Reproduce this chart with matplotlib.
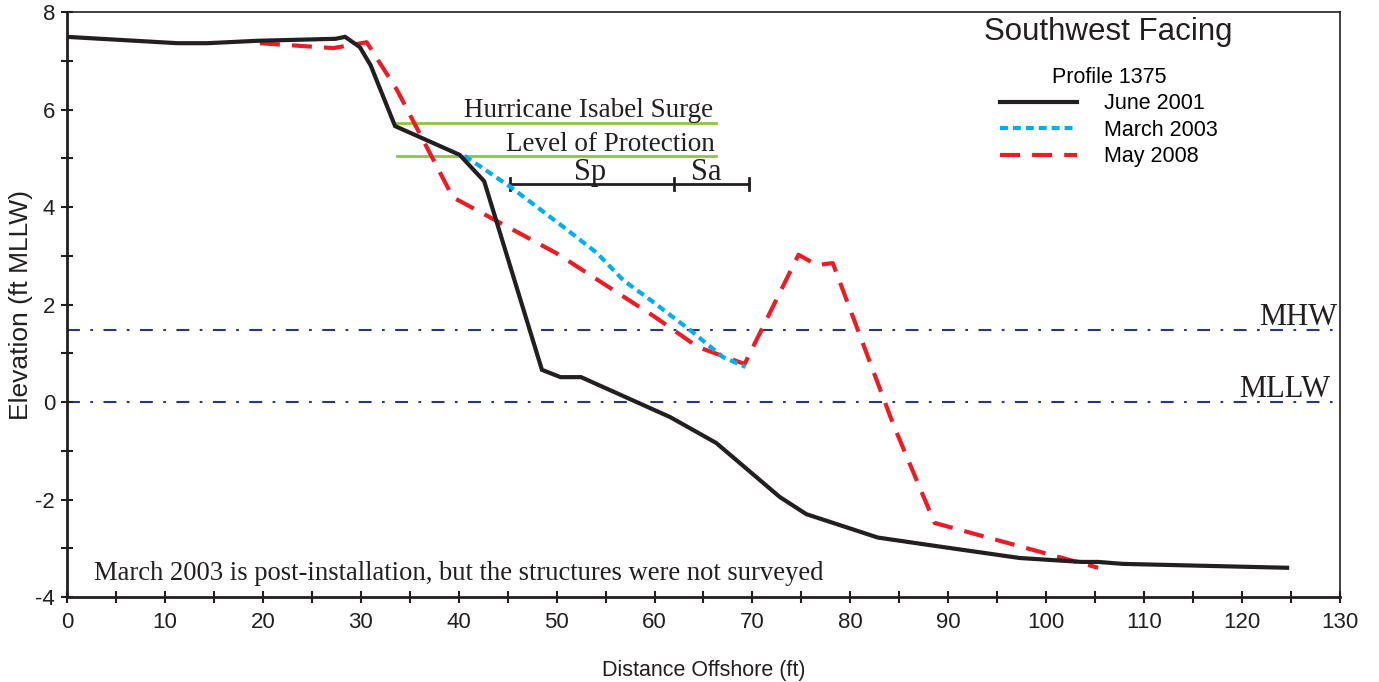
import matplotlib
matplotlib.use("Agg")
import matplotlib.pyplot as plt
from matplotlib.ticker import MultipleLocator

# June 2001 profile (distance ft, elevation ft MLLW)
june2001_x = [0, 11.3, 14.3, 19.5, 27.4, 28.4, 29.9, 31.0, 33.5, 40.1, 42.6, 48.5, 50.4, 52.5,
              61.6, 66.3, 72.8, 75.5, 82.8, 88.6, 97.3, 103.6, 105.3, 107.8, 124.6]
june2001_y = [7.49, 7.36, 7.36, 7.41, 7.45, 7.49, 7.28, 6.91, 5.66, 5.07, 4.53, 0.66, 0.51, 0.51,
              -0.31, -0.84, -1.95, -2.30, -2.78, -2.95, -3.20, -3.28, -3.28, -3.32, -3.40]

# March 2003 profile
march2003_x = [40.6, 45.3, 50.7, 54.1, 56.8, 59.6, 63.6, 67.0, 69.3]
march2003_y = [5.05, 4.41, 3.59, 3.06, 2.50, 2.09, 1.48, 0.92, 0.72]

# May 2008 profile
may2008_x = [19.7, 27.2, 30.6, 33.7, 39.4, 50.0, 60.0, 64.4, 69.2, 74.7, 76.6, 78.2, 84.4, 88.6, 105.3]
may2008_y = [7.36, 7.26, 7.38, 6.40, 4.20, 3.05, 1.75, 1.13, 0.78, 3.02, 2.81, 2.85, -0.47, -2.48, -3.40]

# reference levels
mhw = 1.48
mllw = 0.0
surge_level = 5.72
protection_level = 5.05
level_x = [33.7, 66.3]

# structure extents
sp_x = [45.2, 62.0]
sa_x = [62.0, 69.6]
structure_y = 4.47

black = "#231F20"
red = "#ED1C24"
cyan = "#00AEEF"
navy = "#2E3192"
green = "#8DC63F"
serif = ["Liberation Serif", "DejaVu Serif"]

plt.rcParams["font.family"] = ["Liberation Sans", "DejaVu Sans"]
plt.rcParams["axes.unicode_minus"] = False

fig = plt.figure(figsize=(13.79, 6.82), dpi=100)
ax = fig.add_axes([0.0486, 0.1246, 0.9231, 0.8578])

# MHW / MLLW
dashdot = (0, (6.2, 5.0, 1.3, 5.0))
ax.axhline(mhw, color=navy, lw=1.5, linestyle=dashdot, zorder=1)
ax.axhline(mllw, color=navy, lw=1.5, linestyle=dashdot, zorder=1)
ax.text(129.7, mhw + 0.1, "MHW", family=serif, fontsize=22, ha="right", va="baseline", color=black)
ax.text(129.0, mllw + 0.1, "MLLW", family=serif, fontsize=22, ha="right", va="baseline", color=black)

# surge and protection levels
ax.plot(level_x, [surge_level, surge_level], color=green, lw=2, zorder=2)
ax.plot(level_x, [protection_level, protection_level], color=green, lw=2, zorder=2)
ax.text(66.0, surge_level + 0.12, "Hurricane Isabel Surge", family=serif, fontsize=19.5,
        ha="right", va="baseline", color=black)
ax.text(66.2, protection_level + 0.1, "Level of Protection", family=serif, fontsize=19.5,
        ha="right", va="baseline", color=black)

# Sp / Sa bar
ax.plot([sp_x[0], sa_x[1]], [structure_y, structure_y], color=black, lw=2, zorder=2)
for xx in [sp_x[0], sp_x[1], sa_x[1]]:
    ax.plot([xx, xx], [structure_y - 0.12, structure_y + 0.12], color=black, lw=2, zorder=2)
ax.text(53.4, structure_y + 0.08, "Sp", family=serif, fontsize=22,
        ha="center", va="baseline", color=black)
ax.text(65.3, structure_y + 0.08, "Sa", family=serif, fontsize=22,
        ha="center", va="baseline", color=black)

# profiles
l1, = ax.plot(june2001_x, june2001_y, color=black, lw=3, solid_joinstyle="miter", zorder=4)
l3, = ax.plot(may2008_x, may2008_y, color=red, lw=3, linestyle=(0, (4.8, 2.9)), zorder=3)
l2, = ax.plot(march2003_x, march2003_y, color=cyan, lw=3, linestyle=(0, (1.9, 1.2)), zorder=3)

ax.text(2.76, -3.65, "March 2003 is post-installation, but the structures were not surveyed",
        family=serif, fontsize=19.2, ha="left", va="baseline", color=black)

ax.text(106.3, 7.6, "Southwest Facing", fontsize=22.5, ha="center", va="center", color=black)
leg = ax.legend([l1, l2, l3], ["June 2001", "March 2003", "May 2008"], title="Profile 1375",
                loc="upper left", bbox_to_anchor=(0.733, 0.906), frameon=False, fontsize=15.5,
                title_fontsize=15.5, handlelength=3.58, handletextpad=1.25, labelspacing=0.25,
                borderpad=0, borderaxespad=0)

ax.set_xlim(0, 130)
ax.set_ylim(-4, 8)
ax.xaxis.set_major_locator(MultipleLocator(10))
ax.xaxis.set_minor_locator(MultipleLocator(5))
ax.yaxis.set_major_locator(MultipleLocator(2))
ax.yaxis.set_minor_locator(MultipleLocator(1))
ax.tick_params(which="both", direction="inout", length=9, width=1.5, labelsize=16, colors=black)
ax.tick_params(axis="x", pad=6)
ax.tick_params(axis="y", pad=4)
for side in ["left", "bottom"]:
    ax.spines[side].set_linewidth(2)
for side in ["top", "right"]:
    ax.spines[side].set_linewidth(1.2)
for s in ax.spines.values():
    s.set_color(black)

ax.set_xlabel("Distance Offshore (ft)", fontsize=15.5, color=black, labelpad=20)
ax.set_ylabel("Elevation (ft MLLW)", fontsize=19, color=black)
ax.yaxis.set_label_coords(-0.027, 0.5)

fig.savefig("out.png", dpi=100)
